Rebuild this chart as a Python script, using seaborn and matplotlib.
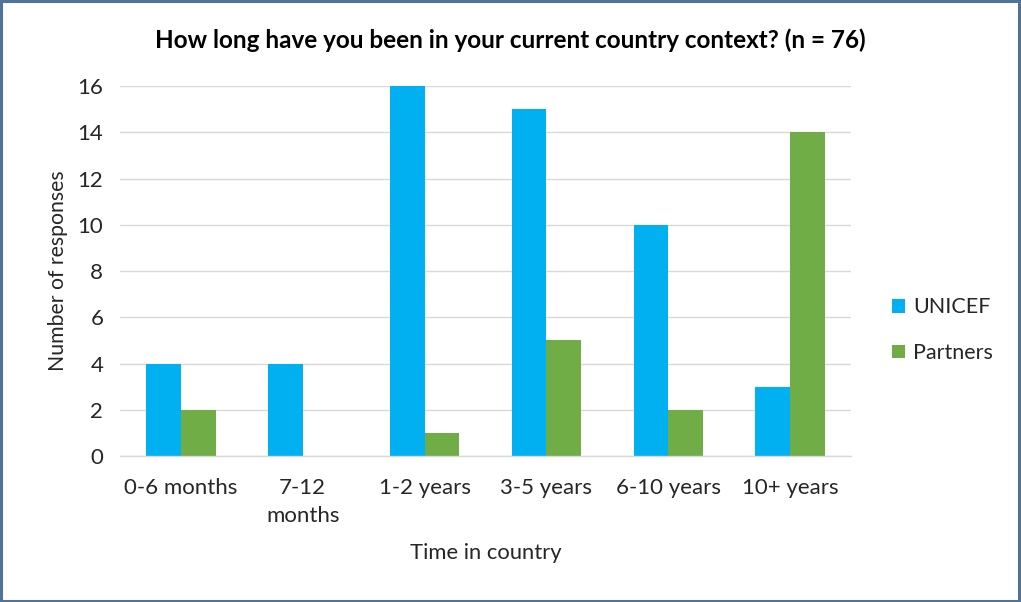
import matplotlib
matplotlib.use("Agg")
import matplotlib.pyplot as plt
import seaborn as sns
import pandas as pd
from matplotlib.patches import Rectangle

categories = ["0-6 months", "7-12\nmonths", "1-2 years", "3-5 years", "6-10 years", "10+ years"]
unicef = [4, 4, 16, 15, 10, 3]
partners = [2, 0, 1, 5, 2, 14]
series_names = ["UNICEF", "Partners"]
colors = ["#00B0F0", "#70AD47"]

df = pd.DataFrame({
    "Time in country": categories * 2,
    "Number of responses": unicef + partners,
    "Group": [series_names[0]] * len(categories) + [series_names[1]] * len(categories),
})

sns.set_theme(style="white")
plt.rcParams["font.family"] = ["Lato", "DejaVu Sans"]

fig = plt.figure(figsize=(10.21, 6.02), dpi=100)
ax = fig.add_axes([0.1175, 0.2425, 0.716, 0.6145])

sns.barplot(data=df, x="Time in country", y="Number of responses", hue="Group",
            palette=colors, width=0.57, saturation=1, ax=ax, dodge=True,
            linewidth=0)

ax.set_ylim(0, 16)
ax.set_yticks(range(0, 17, 2))
ax.yaxis.grid(True, color="#d9d9d9", linewidth=1)
ax.set_axisbelow(True)
for s in ["top", "right", "left"]:
    ax.spines[s].set_visible(False)
ax.spines["bottom"].set_color("#d9d9d9")
ax.spines["bottom"].set_linewidth(1)
ax.tick_params(axis="both", length=0, labelsize=16, colors="#262626")
ax.tick_params(axis="y", pad=12)
ax.tick_params(axis="x", pad=16)
for lbl in ax.get_xticklabels():
    lbl.set_linespacing(1.5)

ax.set_xlabel("Time in country", fontsize=15.8, color="#262626", labelpad=12)
ax.set_ylabel("Number of responses", fontsize=15.3, color="#262626", labelpad=7)
fig.text(0.5, 1 - 40 / 602, "How long have you been in your current country context? (n = 76)",
         ha="center", va="center", fontsize=17.5, fontweight="bold", color="#000000")

leg = ax.legend(loc="center left", bbox_to_anchor=(1.03, 0.34), frameon=False,
                fontsize=15.5, handlelength=0.6, handleheight=0.6,
                handletextpad=0.35, labelspacing=1.2)
for t in leg.get_texts():
    t.set_color("#262626")

fig.patches.append(Rectangle((0.001, 0.002), 0.997, 0.996, transform=fig.transFigure,
                             fill=False, edgecolor="#4f7399", linewidth=2.2))

fig.savefig("out.png", dpi=100, facecolor="white")
